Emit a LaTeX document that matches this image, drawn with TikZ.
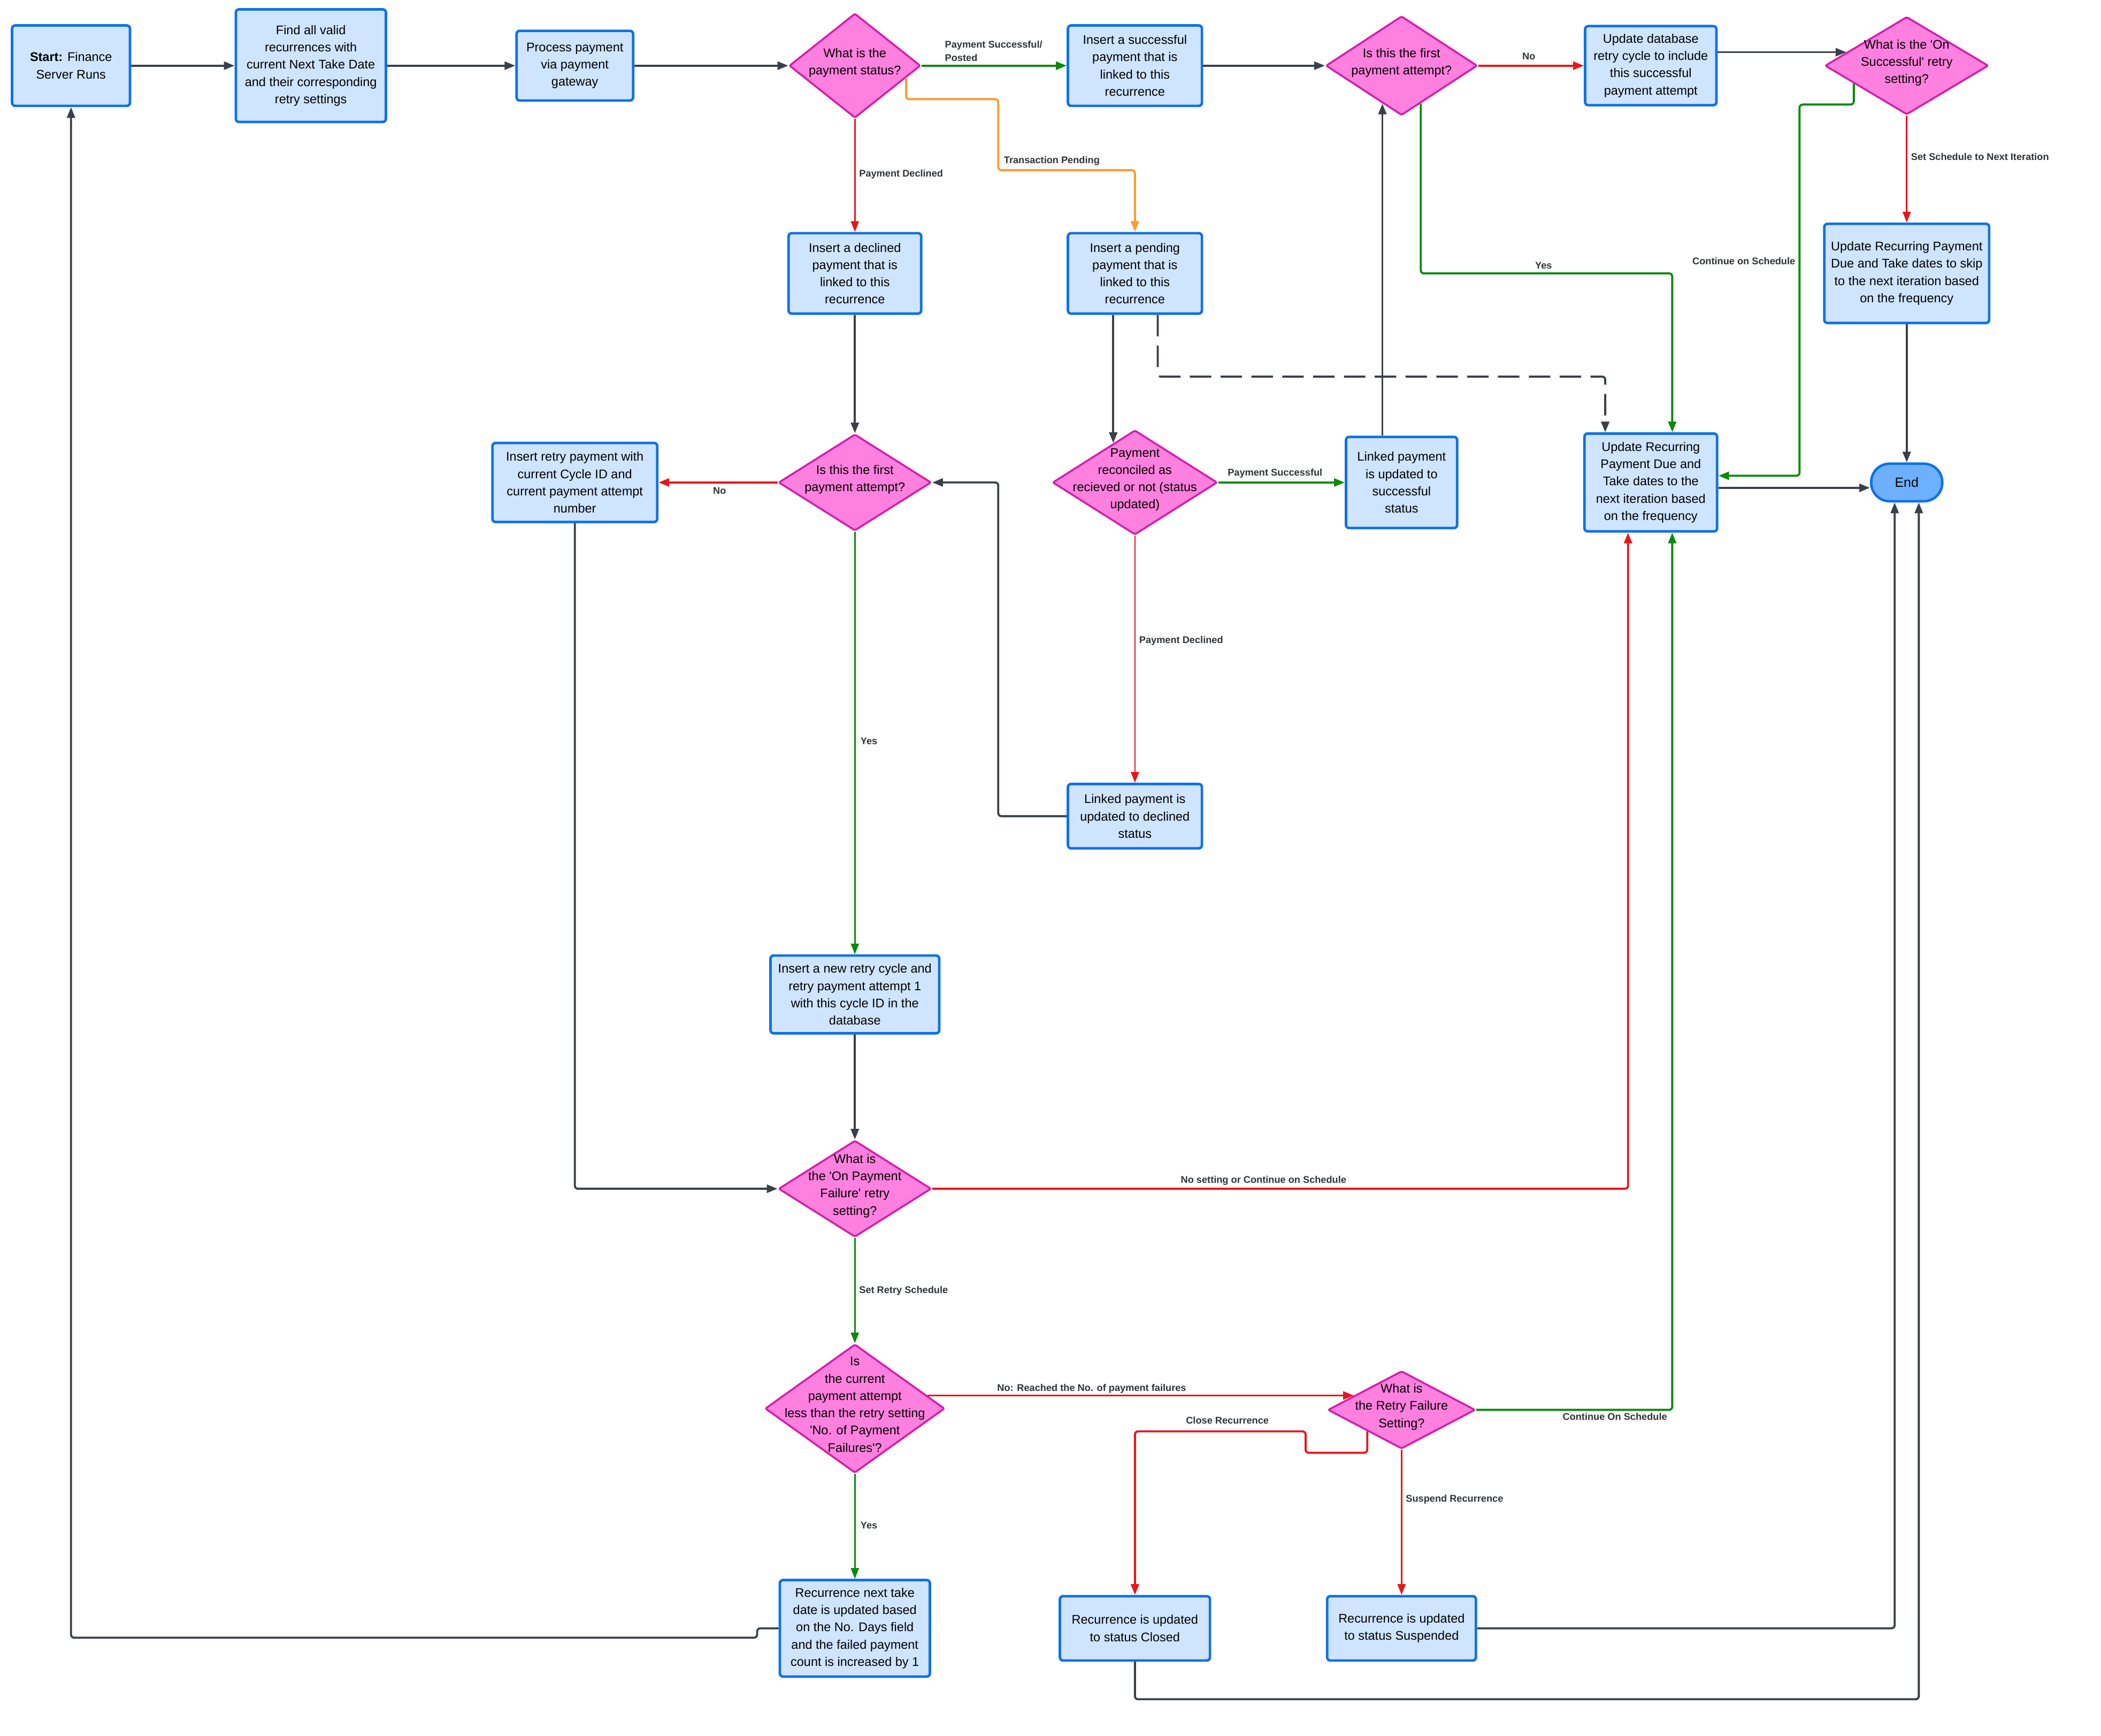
\documentclass[tikz,border=0pt]{standalone}
\usepackage{fontspec}
\setmainfont{Liberation Sans}
\usetikzlibrary{calc,arrows.meta,shapes.geometric}
\definecolor{boxc}{HTML}{1071E5}
\definecolor{boxbg}{HTML}{CFE4FF}
\definecolor{diac}{HTML}{D51DAA}
\definecolor{diabg}{HTML}{FF80DF}
\definecolor{endbg}{HTML}{6CB0FF}
\definecolor{gry}{HTML}{3A4049}
\definecolor{grn}{HTML}{0A8A0A}
\definecolor{rd}{HTML}{E8161B}
\definecolor{org}{HTML}{FF9A33}
\definecolor{lblc}{HTML}{2F3337}
\newcommand{\dtx}[1]{\makebox[0pt]{\smash{\begin{tabular}{@{}c@{}}#1\end{tabular}}}}
\newcommand{\sq}{\textquotesingle}
\tikzset{
  ln/.style={line width=1.3pt,rounded corners=2pt},
  thn/.style={line width=0.9pt},
  ar/.style={ln,-{Triangle[length=2.4mm,width=1.8mm]}},
  sz/.style 2 args={minimum width=#1*0.3mm,minimum height=#2*0.3mm},
  box/.style={draw=boxc,line width=1.6pt,rounded corners=2pt,fill=boxbg,align=center,inner sep=0pt,font=\fontsize{8}{11}\selectfont},
  dia/.style={diamond,draw=diac,line width=1.2pt,fill=diabg,inner sep=0pt,rounded corners=1pt,font=\fontsize{8}{11}\selectfont},
  lbl/.style={font=\fontsize{6.2}{8.5}\selectfont\bfseries,text=lblc,inner sep=0pt,align=left}
}
\begin{document}
\begin{tikzpicture}[x=0.3mm,y=-0.3mm]
\useasboundingbox (0,0) rectangle (1568,1295);
\node[box,sz={88}{60}] (start) at (53,49) {\textbf{Start:} Finance\\Server Runs};
\node[box,sz={112}{84}] (find) at (232,49) {Find all valid\\recurrences with\\current Next Take Date\\and their corresponding\\retry settings};
\node[box,sz={87}{52}] (proc) at (429,49) {Process payment\\via payment\\gateway};
\node[dia,sz={98}{78}] (stat) at (638,49) {\dtx{What is the\\payment status?}};
\node[box,sz={100}{60}] (succ) at (847,49) {Insert a successful\\payment that is\\linked to this\\recurrence};
\node[dia,sz={113}{74}] (first) at (1046,49) {\dtx{Is this the first\\payment attempt?}};
\node[box,sz={98}{59}] (updb) at (1232,49) {Update database\\retry cycle to include\\this successful\\payment attempt};
\node[dia,sz={122}{73}] (osucc) at (1423,49) {\dtx{What is the \sq On\\Successful\sq{} retry\\setting?}};
\node[box,sz={123}{74}] (skip) at (1423,204) {Update Recurring Payment\\Due and Take dates to skip\\to the next iteration based\\on the frequency};
\node[box,sz={99}{60}] (decl) at (638,204) {Insert a declined\\payment that is\\linked to this\\recurrence};
\node[box,sz={100}{60}] (pend) at (847,204) {Insert a pending\\payment that is\\linked to this\\recurrence};
\node[dia,sz={114}{72}] (first2) at (638,360) {\dtx{Is this the first\\payment attempt?}};
\node[box,sz={123}{59}] (retry) at (429,360) {Insert retry payment with\\current Cycle ID and\\current payment attempt\\number};
\node[dia,sz={123}{78}] (recon) at (847,360) {\dtx{Payment\\reconciled as\\recieved or not (status\\updated)}};
\node[box,sz={83}{68}] (lsucc) at (1046,360) {Linked payment\\is updated to\\successful\\status};
\node[box,sz={99}{73}] (upd) at (1232,360) {Update Recurring\\Payment Due and\\Take dates to the\\next iteration based\\on the frequency};
\node[draw=boxc,line width=1.6pt,fill=endbg,rounded corners=4.1mm,sz={53}{28},inner sep=0pt,font=\fontsize{8.5}{11}\selectfont] (fin) at (1423,360) {End};
\node[box,sz={100}{48}] (ldecl) at (847,609) {Linked payment is\\updated to declined\\status};
\node[box,sz={126}{58}] (newcyc) at (638,742) {Insert a new retry cycle and\\retry payment attempt 1\\with this cycle ID in the\\database};
\node[dia,sz={114}{72}] (ofail) at (638,887) {\dtx{What is\\the \sq On Payment\\Failure\sq{} retry\\setting?}};
\node[dia,sz={134}{96}] (less) at (638,1051) {\dtx{Is\\the current\\payment attempt\\less than the retry setting\\\sq No. of Payment\\Failures\sq?}};
\node[dia,sz={110}{58}] (rfail) at (1046,1052) {\dtx{What is\\the Retry Failure\\Setting?}};
\node[box,sz={112}{72}] (next) at (638,1215) {Recurrence next take\\date is updated based\\on the No. Days field\\and the failed payment\\count is increased by 1};
\node[box,sz={112}{48}] (closed) at (847,1215) {Recurrence is updated\\to status Closed};
\node[box,sz={111}{48}] (susp) at (1046,1215) {Recurrence is updated\\to status Suspended};
\coordinate (sout) at ($(stat.east)!0.23!(stat.south)$);
\coordinate (oin) at ($(osucc.west)!0.27!(osucc.north)$);
\coordinate (oout) at ($(osucc.west)!0.36!(osucc.south)$);
\coordinate (fyes) at ($(first.south)!0.25!(first.east)$);
\coordinate (fback) at ($(first.south)!0.25!(first.west)$);
\coordinate (rin) at ($(recon.north)!0.26!(recon.west)$);
\coordinate (lout) at ($(less.east)!0.2!(less.north)$);
\coordinate (rin2) at ($(rfail.west)!0.36!(rfail.north)$);
\coordinate (rcl) at ($(rfail.west)!0.54!(rfail.south)$);
\draw[ar,gry] (start) -- (find);
\draw[ar,gry] (find) -- (proc);
\draw[ar,gry] (proc) -- (stat);
\draw[ar,grn] (stat) -- (succ);
\draw[ar,rd,thn] (stat) -- (decl);
\draw[ar,org] (sout) |- (745,74) -- (745,127) -| (pend.north);
\draw[ar,gry] (succ) -- (first);
\draw[ar,rd] (first) -- (updb);
\draw[ar,gry] (updb.east |- oin) -- (oin);
\draw[ar,rd,thn] (osucc) -- (skip);
\draw[ar,grn] (oout) |- (1343,78) |- ($(upd.east)+(0,-5)$);
\draw[ar,grn] (fyes) |- (1248,204) -- ($(upd.north)+(16,0)$);
\draw[ar,gry,dash pattern=on 4.8mm off 2.1mm] ($(pend.south)+(17,0)$) |- (1198,281) -- ($(upd.north)+(-34,0)$);
\draw[ar,gry] (pend.south -| rin) -- (rin);
\draw[ar,gry] (lsucc.north -| fback) -- (fback);
\draw[ar,grn] (recon) -- (lsucc);
\draw[ar,rd,thn] (recon) -- (ldecl);
\draw[ar,gry] (ldecl.west) -- (745,609) |- (first2.east);
\draw[ar,gry] (decl) -- (first2);
\draw[ar,rd] (first2) -- (retry);
\draw[ar,grn,thn] (first2) -- (newcyc);
\draw[ar,gry] (newcyc) -- (ofail);
\draw[ar,gry] (retry.south) |- (ofail.west);
\draw[ar,rd] (ofail.east) -| ($(upd.south)+(-17,0)$);
\draw[ar,grn,thn] (ofail) -- (less);
\draw[ar,rd] (lout) -- (lout -| rin2);
\draw[ar,grn] (rfail.east) -| ($(upd.south)+(16,0)$);
\draw[ar,rd] (rcl) -- ++(0,16) -- ++(-46,0) -- ++(0,-16) -| (closed.north);
\draw[ar,rd,thn] (rfail) -- (susp);
\draw[ar,grn,thn] (less) -- (next);
\draw[ar,gry] (next.west) -- ++(-16,0) -- ++(0,7) -| (start.south);
\draw[ar,gry] (susp.east) -| ($(fin.south)+(-9,0)$);
\draw[ar,gry] (closed.south) -- ++(0,28) -| ($(fin.south)+(9,0)$);
\draw[ar,gry] ($(upd.east)+(0,4)$) -- ($(fin.west)+(0,4)$);
\draw[ar,gry] (skip) -- (fin);
\node[lbl,anchor=west] (lPost) at (705,38) {Payment Successful/\\Posted};
\node[lbl,anchor=west] (lDec) at (641,130) {Payment Declined};
\node[lbl,anchor=west] (lPend) at (749,120) {Transaction Pending};
\node[lbl] (lNo) at (1141,42) {No};
\node[lbl,anchor=west] (lNext) at (1426,117) {Set Schedule to Next Iteration};
\node[lbl,anchor=east] (lCont) at (1340,195) {Continue on Schedule};
\node[lbl] (lYes) at (1152,198) {Yes};
\node[lbl] (lNo2) at (537,366) {No};
\node[lbl,anchor=west] (lPSucc) at (916,353) {Payment Successful};
\node[lbl,anchor=west] (lDec2) at (850,478) {Payment Declined};
\node[lbl,anchor=west] (lYes2) at (642,553) {Yes};
\node[lbl] (lNoSet) at (943,881) {No setting or Continue on Schedule};
\node[lbl,anchor=west] (lRetry) at (641,963) {Set Retry Schedule};
\node[lbl,anchor=west] (lReach) at (744,1036) {No: Reached the No. of payment failures};
\node[lbl] (lClose) at (916,1060) {Close Recurrence};
\node[lbl,anchor=west] (lOnSch) at (1166,1057) {Continue On Schedule};
\node[lbl,anchor=west] (lSusp) at (1049,1119) {Suspend Recurrence};
\node[lbl,anchor=west] (lYes3) at (642,1138) {Yes};
\end{tikzpicture}
\end{document}
